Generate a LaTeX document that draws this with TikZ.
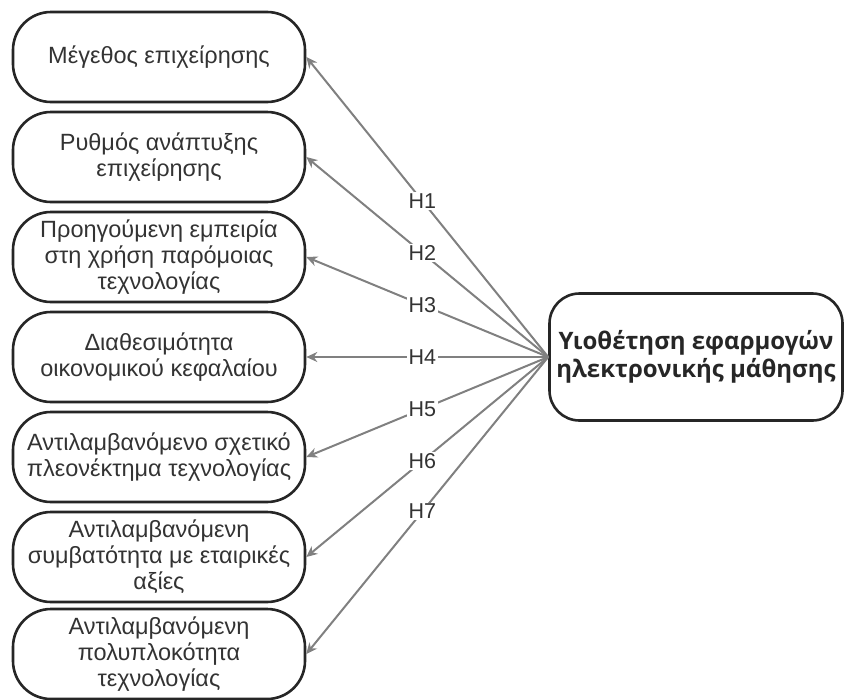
\documentclass[tikz,border=0pt]{standalone}
\usepackage{fontspec}
\setmainfont{Liberation Sans}
\newfontfamily\titlefont{Open Sans}
\usetikzlibrary{arrows.meta}
\begin{document}
\begin{tikzpicture}[x=1pt,y=-1pt,
  factor/.style={draw=black!85, line width=2.6pt, rounded corners=38pt, minimum width=292pt, minimum height=90pt, align=center, font=\fontsize{23.5}{26}\selectfont, text=black!80, inner sep=0pt},
  target/.style={draw=black!85, line width=2.6pt, rounded corners=30pt, minimum width=293pt, minimum height=127pt, align=center, font=\titlefont\bfseries\fontsize{24}{28}\selectfont, text=black!85, inner sep=0pt},
  hyp/.style={draw=black!50, line width=2pt, -{Stealth[length=11pt,width=10pt]}},
  hlabel/.style={fill=white, inner sep=1.5pt, pos=0.52, font=\fontsize{21.5}{24}\selectfont, text=black!80}]
\useasboundingbox (0,0) rectangle (845,699);
\node[factor] (f1) at (159,57) {Μέγεθος επιχείρησης};
\node[factor] (f2) at (159,157) {Ρυθμός ανάπτυξης\\επιχείρησης};
\node[factor] (f3) at (159,257) {Προηγούμενη εμπειρία\\στη χρήση παρόμοιας\\τεχνολογίας};
\node[factor] (f4) at (159,357) {Διαθεσιμότητα\\οικονομικού κεφαλαίου};
\node[factor] (f5) at (159,457) {Αντιλαμβανόμενο σχετικό\\πλεονέκτημα τεχνολογίας};
\node[factor] (f6) at (159,557) {Αντιλαμβανόμενη\\συμβατότητα με εταιρικές\\αξίες};
\node[factor] (f7) at (159,654) {Αντιλαμβανόμενη\\πολυπλοκότητα\\τεχνολογίας};
\node[target] (t) at (696,357) {Υιοθέτηση εφαρμογών\\ηλεκτρονικής μάθησης};
\draw[hyp] (t.west) -- (f1.east) node[hlabel] {H1};
\draw[hyp] (t.west) -- (f2.east) node[hlabel] {H2};
\draw[hyp] (t.west) -- (f3.east) node[hlabel] {H3};
\draw[hyp] (t.west) -- (f4.east) node[hlabel] {H4};
\draw[hyp] (t.west) -- (f5.east) node[hlabel] {H5};
\draw[hyp] (t.west) -- (f6.east) node[hlabel] {H6};
\draw[hyp] (t.west) -- (f7.east) node[hlabel] {H7};
\end{tikzpicture}
\end{document}
